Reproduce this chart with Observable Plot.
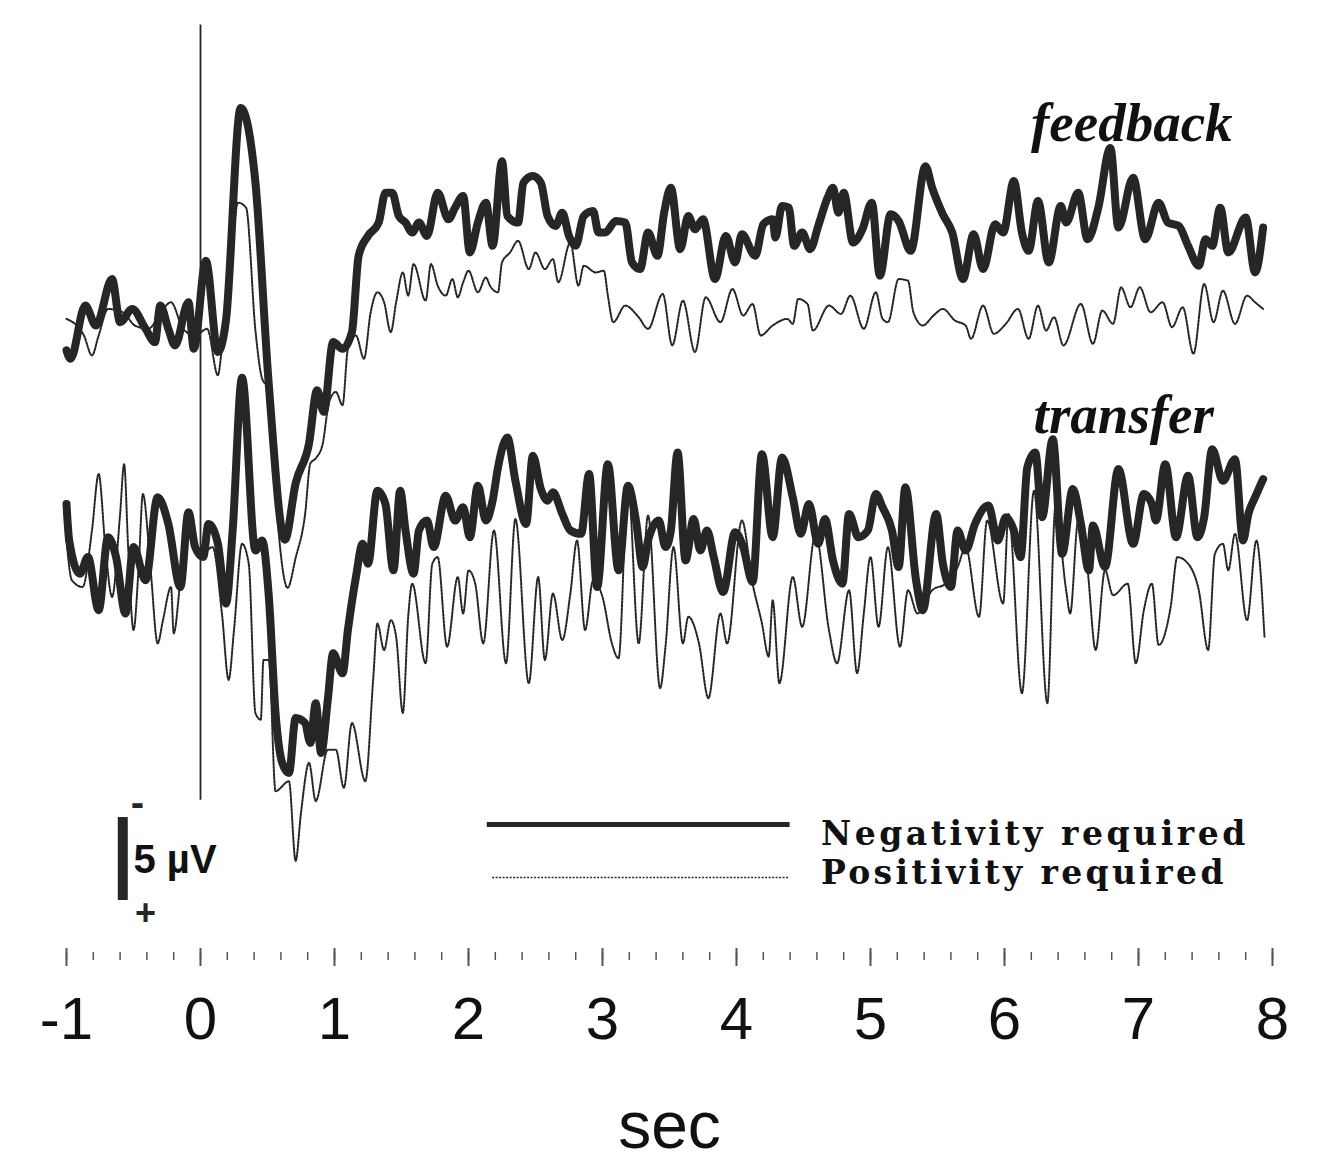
<!DOCTYPE html>
<html><head><meta charset="utf-8">
<script src="https://cdn.jsdelivr.net/npm/d3@7"></script>
<script src="https://cdn.jsdelivr.net/npm/@observablehq/plot@0.6"></script>
<style>body{margin:0;background:#fff}</style>
</head><body><div id="chart"></div>
<script>
// ---- data (time in s, amplitude in µV, negative = up) ----
const xTicks = [-1,0,1,2,3,4,5,6,7,8];
const minorTicks = d3.range(-1, 8.001, 0.2);
const panels = ["feedback","transfer"];
const conditions = ["Negativity required","Positivity required"];

const feedbackNegativity = [[-1.00,0.9],[-0.97,1.4],[-0.86,-1.8],[-0.78,-0.6],[-0.66,-3.4],[-0.60,-0.8],[-0.51,-1.6],[-0.41,-0.4],[-0.34,0.4],[-0.30,-1.8],[-0.24,-0.4],[-0.19,0.6],[-0.09,-2.0],[-0.05,0.8],[0.04,-4.5],[0.13,1.0],[0.19,-0.9],[0.30,-13.7],[0.41,-9.2],[0.51,3.0],[0.63,12.3],[0.71,8.9],[0.81,6.5],[0.87,3.3],[0.92,4.6],[0.99,0.4],[1.06,0.8],[1.13,-0.2],[1.18,-4.8],[1.25,-6.0],[1.33,-6.8],[1.38,-8.6],[1.43,-8.6],[1.48,-7.2],[1.53,-6.8],[1.58,-6.2],[1.63,-6.8],[1.69,-6.0],[1.77,-8.6],[1.85,-7.0],[1.90,-7.7],[1.96,-8.4],[2.01,-5.0],[2.07,-6.8],[2.13,-8.0],[2.18,-5.4],[2.25,-10.5],[2.29,-7.2],[2.37,-6.8],[2.41,-9.2],[2.48,-9.6],[2.54,-9.2],[2.59,-7.2],[2.65,-6.6],[2.70,-7.4],[2.75,-6.0],[2.80,-5.4],[2.86,-7.2],[2.93,-7.5],[2.97,-6.2],[3.02,-6.2],[3.10,-6.9],[3.17,-6.8],[3.22,-4.4],[3.28,-4.0],[3.34,-6.2],[3.41,-4.8],[3.46,-7.4],[3.51,-8.9],[3.58,-5.2],[3.64,-7.2],[3.69,-6.4],[3.75,-7.0],[3.84,-3.4],[3.92,-6.0],[3.99,-4.4],[4.04,-6.1],[4.14,-4.8],[4.20,-6.7],[4.27,-7.0],[4.29,-5.9],[4.34,-7.8],[4.39,-7.7],[4.43,-5.4],[4.49,-6.2],[4.55,-5.2],[4.61,-6.6],[4.68,-8.3],[4.72,-8.9],[4.76,-7.4],[4.80,-8.6],[4.87,-5.6],[4.94,-6.4],[5.01,-8.0],[5.07,-3.6],[5.15,-7.3],[5.21,-6.9],[5.30,-5.1],[5.41,-10.2],[5.46,-8.9],[5.54,-7.3],[5.61,-6.2],[5.69,-3.4],[5.77,-6.1],[5.84,-4.0],[5.93,-6.7],[5.99,-6.2],[6.07,-9.3],[6.13,-6.2],[6.18,-5.1],[6.25,-8.1],[6.33,-4.4],[6.42,-7.8],[6.46,-6.8],[6.55,-8.6],[6.62,-5.8],[6.70,-7.7],[6.79,-11.3],[6.85,-6.5],[6.96,-9.5],[7.05,-5.8],[7.15,-8.0],[7.22,-6.8],[7.30,-6.6],[7.37,-5.4],[7.45,-4.2],[7.50,-5.8],[7.55,-5.4],[7.61,-7.7],[7.67,-5.0],[7.80,-7.1],[7.87,-3.8],[7.93,-6.5]];

const feedbackPositivity = [[-1.00,-1.0],[-0.87,0.0],[-0.81,1.2],[-0.76,0.0],[-0.69,-1.6],[-0.58,-1.4],[-0.49,-0.6],[-0.39,-0.4],[-0.28,-1.6],[-0.22,-2.0],[-0.13,-0.4],[-0.04,0.0],[0.05,-0.4],[0.13,2.4],[0.16,0.8],[0.21,-1.4],[0.25,-6.4],[0.28,-8.0],[0.34,-7.7],[0.41,-0.3],[0.46,2.6],[0.51,3.2],[0.56,9.6],[0.65,15.2],[0.71,13.4],[0.78,10.8],[0.82,7.7],[0.86,7.4],[0.91,6.6],[0.96,4.0],[1.01,3.4],[1.06,4.2],[1.10,0.8],[1.16,0.0],[1.22,1.4],[1.27,-1.4],[1.32,-2.6],[1.37,-2.0],[1.42,-0.2],[1.46,-2.0],[1.51,-3.8],[1.55,-2.4],[1.59,-4.3],[1.68,-2.1],[1.72,-4.3],[1.77,-3.0],[1.83,-2.4],[1.88,-3.4],[1.92,-2.3],[1.96,-3.2],[2.00,-3.9],[2.07,-2.6],[2.13,-3.5],[2.16,-3.0],[2.22,-2.6],[2.25,-4.4],[2.31,-5.0],[2.37,-5.7],[2.45,-4.0],[2.50,-5.0],[2.57,-4.0],[2.63,-4.6],[2.67,-3.2],[2.76,-5.6],[2.82,-3.0],[2.86,-4.2],[2.95,-3.8],[3.01,-3.9],[3.04,-2.4],[3.08,-0.8],[3.17,-1.8],[3.27,-1.1],[3.34,-0.4],[3.45,-2.5],[3.52,0.6],[3.60,-2.1],[3.69,1.0],[3.77,-2.3],[3.88,-0.8],[3.97,-2.8],[4.05,-1.2],[4.12,-1.9],[4.18,0.0],[4.27,-0.6],[4.38,-1.0],[4.42,-0.7],[4.46,-2.2],[4.53,-1.9],[4.57,-0.3],[4.69,-1.8],[4.78,-1.3],[4.85,-2.4],[4.95,-0.4],[5.04,-2.6],[5.09,-1.0],[5.13,-0.8],[5.21,-3.4],[5.28,-3.3],[5.32,-1.4],[5.39,-0.6],[5.47,-1.2],[5.54,-1.6],[5.63,-0.9],[5.71,-0.6],[5.75,0.2],[5.84,-1.8],[5.92,-0.1],[6.01,-0.7],[6.10,-1.6],[6.18,0.2],[6.25,-1.8],[6.31,-0.3],[6.37,-1.1],[6.44,0.6],[6.57,-1.9],[6.66,0.5],[6.73,-1.5],[6.81,-0.7],[6.87,-2.9],[6.94,-1.7],[7.01,-2.9],[7.09,-1.4],[7.18,-2.0],[7.25,-0.5],[7.33,-1.7],[7.41,1.1],[7.49,-3.1],[7.56,-0.8],[7.63,-2.7],[7.72,-0.7],[7.81,-2.4],[7.87,-2.0],[7.93,-1.6]];

const transferNegativity = [[-1.00,-3.4],[-0.98,-1.2],[-0.90,0.8],[-0.84,-0.2],[-0.76,3.0],[-0.69,-1.4],[-0.63,-0.2],[-0.56,3.2],[-0.50,-0.8],[-0.41,1.2],[-0.32,-3.8],[-0.24,-2.2],[-0.15,1.6],[-0.09,-2.9],[-0.04,-0.8],[0.02,-0.2],[0.06,-2.2],[0.13,-1.0],[0.19,2.6],[0.24,-1.8],[0.31,-11.0],[0.41,-0.6],[0.46,-1.2],[0.51,2.2],[0.56,9.2],[0.61,12.2],[0.66,12.8],[0.71,9.5],[0.78,9.8],[0.82,11.0],[0.86,8.6],[0.90,11.6],[0.95,8.4],[0.99,5.6],[1.06,6.8],[1.10,4.2],[1.16,1.0],[1.21,-1.0],[1.25,0.2],[1.32,-4.2],[1.38,-3.4],[1.44,0.6],[1.49,-4.2],[1.53,-1.8],[1.59,0.8],[1.63,-1.8],[1.69,-2.4],[1.74,-0.8],[1.83,-3.9],[1.90,-2.4],[1.96,-3.2],[2.01,-1.4],[2.07,-4.5],[2.13,-2.4],[2.18,-3.6],[2.22,-5.6],[2.29,-7.4],[2.35,-4.8],[2.43,-2.2],[2.48,-6.3],[2.54,-4.3],[2.59,-3.6],[2.63,-4.1],[2.70,-2.8],[2.76,-1.8],[2.84,-1.6],[2.90,-5.2],[2.96,1.6],[3.04,-5.8],[3.12,0.6],[3.19,-4.5],[3.25,-2.4],[3.30,0.4],[3.34,-1.2],[3.42,-2.4],[3.47,-0.8],[3.51,-1.8],[3.56,-6.5],[3.62,0.0],[3.68,-2.5],[3.73,-0.6],[3.78,-1.8],[3.83,-0.2],[3.90,1.9],[3.99,-1.7],[4.05,-0.8],[4.12,1.3],[4.19,-6.4],[4.27,-1.4],[4.34,-6.2],[4.42,-3.8],[4.48,-1.6],[4.54,-3.4],[4.61,-1.0],[4.66,-2.5],[4.72,0.0],[4.79,1.4],[4.84,-2.8],[4.91,-1.4],[4.98,-1.8],[5.04,-4.0],[5.09,-3.2],[5.16,-1.8],[5.21,0.4],[5.26,-4.4],[5.34,1.2],[5.39,3.0],[5.49,-2.8],[5.54,0.2],[5.60,1.6],[5.65,-1.8],[5.71,-0.6],[5.78,-2.2],[5.88,-3.3],[5.95,-1.2],[6.01,-2.6],[6.07,-1.8],[6.12,-0.2],[6.17,-5.6],[6.23,-6.5],[6.28,-2.6],[6.36,-7.3],[6.43,-0.4],[6.51,-4.3],[6.57,-2.2],[6.63,0.6],[6.66,-2.1],[6.75,0.4],[6.85,-5.5],[6.96,-1.0],[7.04,-4.0],[7.10,-3.4],[7.13,-2.4],[7.20,-5.8],[7.28,-1.4],[7.37,-5.1],[7.44,-1.4],[7.49,-2.6],[7.55,-6.7],[7.63,-4.8],[7.72,-6.1],[7.78,-1.2],[7.82,-2.8],[7.87,-3.8],[7.93,-4.9]];

const transferPositivity = [[-1.00,-1.2],[-0.96,1.2],[-0.88,1.6],[-0.81,-1.8],[-0.76,-5.2],[-0.71,-0.8],[-0.66,2.2],[-0.60,-2.8],[-0.57,-5.8],[-0.54,-0.8],[-0.50,4.2],[-0.46,0.2],[-0.43,-4.0],[-0.37,0.8],[-0.32,5.0],[-0.28,3.6],[-0.22,1.6],[-0.20,4.4],[-0.15,1.2],[-0.10,-2.0],[-0.01,-0.2],[0.09,-0.8],[0.16,3.2],[0.21,7.2],[0.25,4.2],[0.31,-1.0],[0.36,0.2],[0.41,9.2],[0.45,9.6],[0.47,6.0],[0.51,6.0],[0.56,13.9],[0.66,13.3],[0.71,18.1],[0.75,15.2],[0.81,12.2],[0.86,14.5],[0.95,11.4],[1.01,11.4],[1.07,13.7],[1.13,9.8],[1.23,13.3],[1.29,7.0],[1.32,3.8],[1.37,5.4],[1.42,3.6],[1.46,4.6],[1.51,9.2],[1.55,3.4],[1.58,1.4],[1.68,6.2],[1.73,0.2],[1.77,-0.2],[1.84,5.2],[1.92,1.0],[1.96,3.2],[2.00,0.6],[2.05,1.4],[2.11,5.0],[2.19,-1.8],[2.28,6.2],[2.35,-2.5],[2.45,7.4],[2.52,1.0],[2.57,6.0],[2.63,2.0],[2.70,4.8],[2.76,2.0],[2.81,-1.2],[2.87,4.2],[2.93,1.2],[3.00,2.2],[3.07,5.0],[3.12,5.9],[3.19,-4.6],[3.27,5.0],[3.34,-2.7],[3.43,7.7],[3.47,5.2],[3.53,-0.8],[3.60,5.0],[3.64,3.4],[3.72,5.0],[3.79,8.3],[3.88,3.2],[3.93,5.0],[4.04,-2.4],[4.12,1.4],[4.19,3.8],[4.24,5.8],[4.27,2.4],[4.32,7.4],[4.42,1.0],[4.49,4.0],[4.59,-1.6],[4.69,4.2],[4.75,6.2],[4.84,1.8],[4.90,6.8],[4.95,3.2],[5.00,-0.2],[5.06,4.0],[5.13,-0.8],[5.22,5.2],[5.28,1.8],[5.35,3.2],[5.46,1.8],[5.56,1.4],[5.65,0.4],[5.71,-0.8],[5.81,3.4],[5.87,-2.4],[5.99,2.6],[6.03,-2.8],[6.13,8.0],[6.22,-4.2],[6.32,8.6],[6.38,-3.2],[6.46,1.8],[6.49,3.2],[6.55,-2.4],[6.62,0.6],[6.68,5.4],[6.75,0.6],[6.81,2.1],[6.92,1.4],[6.98,6.2],[7.04,3.0],[7.10,1.4],[7.15,5.1],[7.24,2.8],[7.29,-0.2],[7.37,0.2],[7.45,1.8],[7.52,5.4],[7.57,-0.4],[7.63,-1.0],[7.67,0.6],[7.72,-1.6],[7.81,3.6],[7.88,-1.2],[7.94,4.6]];

// ---- layout (vertical offset of each panel's baseline, µV) ----
const panelOffset = {feedback: 0, transfer: 13.55};
const rows = (arr, panel, cond) => arr.map(([t, v]) => ({t, v: v + panelOffset[panel], panel, cond}));
const thick = [...rows(feedbackNegativity, "feedback", conditions[0]), ...rows(transferNegativity, "transfer", conditions[0])];
const thin  = [...rows(feedbackPositivity, "feedback", conditions[1]), ...rows(transferPositivity, "transfer", conditions[1])];

const ink = "#262626";
const serif = "'Liberation Serif', 'Times New Roman', serif";
const chart = Plot.plot({
  width: 1323, height: 1165,
  marginLeft: 66, marginRight: 51, marginTop: 0, marginBottom: 217,
  style: {fontFamily: "'Liberation Sans', Arial, sans-serif", background: "#fff", color: ink},
  x: {domain: [-1, 8]},
  y: {domain: [-20.18, 36.93], reverse: true, axis: null},
  marks: [
    Plot.ruleX([0], {y1: -18.7, y2: 28.0, stroke: ink, strokeWidth: 1.8}),
    Plot.line(thin, {x: "t", y: "v", z: "panel", curve: "monotone-x", stroke: ink, strokeWidth: 2, strokeDasharray: "2,1.5"}),
    Plot.line(thick, {x: "t", y: "v", z: "panel", curve: "monotone-x", stroke: ink, strokeWidth: 8, strokeLinejoin: "round"}),
    // panel titles
    Plot.text(panels, {x: [6.95, 6.89], y: [-12.8, 4.8], text: d => d,
      fontFamily: serif, fontStyle: "italic", fontWeight: "bold", fontSize: 55, fill: "#111"}),
    // legend
    Plot.ruleY([29.46], {x1: 2.14, x2: 4.40, stroke: ink, strokeWidth: 5}),
    Plot.ruleY([32.65], {x1: 2.18, x2: 4.40, stroke: ink, strokeWidth: 1.6, strokeDasharray: "2,1.5"}),
    Plot.text(conditions, {x: 4.63, y: [30.06, 32.4], text: d => d, textAnchor: "start",
      fontFamily: "'DejaVu Serif', serif", fontWeight: "bold", fontSize: 33, fill: "#111"}),
    // 5 µV calibration bar
    Plot.ruleX([-0.58], {y1: 29.04, y2: 34.04, stroke: ink, strokeWidth: 10}),
    Plot.text(["-"], {x: -0.47, y: 28.2, fontSize: 40, fontWeight: "bold", fill: ink}),
    Plot.text(["+"], {x: -0.41, y: 34.8, fontSize: 36, fontWeight: "bold", fill: ink}),
    Plot.text(["5 µV"], {x: -0.5, y: 31.6, textAnchor: "start", fontSize: 40, fontWeight: "bold", fill: "#111"}),
    // x axis
    Plot.axisX(minorTicks, {tickSize: 8, tickFormat: () => "", label: null, stroke: "#555", strokeWidth: 1.5, dy: 4}),
    Plot.axisX(xTicks, {tickSize: 18, tickPadding: 30, tickFormat: d => String(d), fontSize: 60, stroke: "#555", strokeWidth: 2, label: null, fill: "#111"}),
    Plot.text(["sec"], {frameAnchor: "bottom", dy: 199, fontSize: 66, fill: "#111"})
  ]
});
document.getElementById("chart").appendChild(chart);
// fit the legend labels to the width they take in the original print
const legendWidths = {"Negativity required": 428, "Positivity required": 406};
d3.select(chart).selectAll("text")
  .filter(function() { return this.textContent in legendWidths; })
  .each(function() {
    const w = this.getComputedTextLength();
    const n = this.textContent.length;
    this.setAttribute("letter-spacing", Math.max(0, (legendWidths[this.textContent] - w) / n).toFixed(2));
  });
</script>
</body></html>
